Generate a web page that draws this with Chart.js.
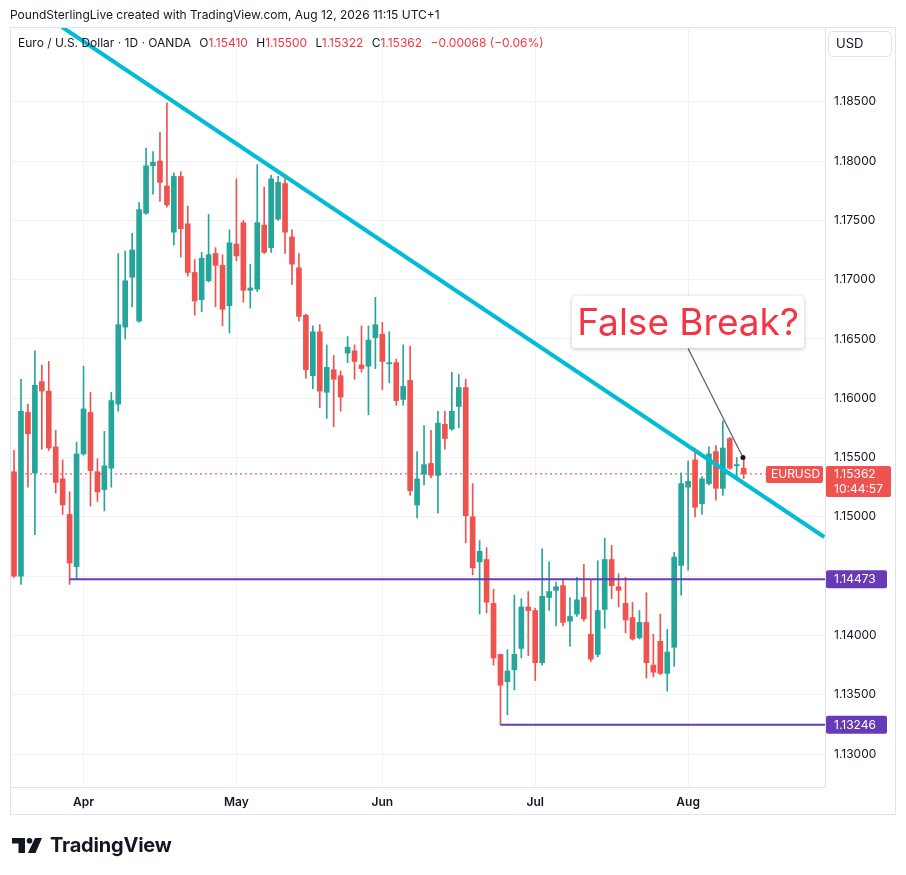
<!DOCTYPE html>
<html>
<head>
<meta charset="utf-8">
<title>EURUSD 1D</title>
<script src="https://cdn.jsdelivr.net/npm/chart.js@4.4.1/dist/chart.umd.min.js"></script>
<style>
    html, body { margin: 0; padding: 0; background: #fff; }
    body { width: 906px; height: 875px; position: relative; overflow: hidden; font-family: Inter, Roboto, "Noto Sans", sans-serif; color: #131722; }
    #chart { position: absolute; left: 0; top: 0; }
    .credit { position: absolute; left: 10px; top: 7px; font-size: 12px; white-space: nowrap; }
    .legend { position: absolute; left: 18px; top: 35px; font-size: 12px; white-space: nowrap; }
    .legend .v { color: #f23645; }
    .legend span.gap { display: inline-block; width: 5px; }
    .callout { position: absolute; left: 572px; top: 296px; width: 232px; height: 52px; background: #fff; border-radius: 4px;
        box-shadow: 0 1px 4px rgba(0, 0, 0, 0.25); color: #f23645; font-size: 37px; line-height: 52px; text-align: center; }
    .logo { position: absolute; left: 12px; top: 834px; height: 22px; display: flex; align-items: center; }
    .logo span { font-size: 20px; font-weight: 700; letter-spacing: -0.2px; margin-left: 8px; color: #131722; }
</style>
</head>
<body>
<canvas id="chart" width="906" height="875"></canvas>
<div class="credit">PoundSterlingLive created with TradingView.com, Aug 12, 2026 11:15 UTC+1</div>
<div class="legend">Euro / U.S. Dollar · 1D · OANDA<span class="gap"></span> O<span class="v">1.15410</span><span class="gap"></span> H<span class="v">1.15500</span><span class="gap"></span> L<span class="v">1.15322</span><span class="gap"></span> C<span class="v">1.15362</span><span class="gap"></span> <span class="v">−0.00068 (−0.06%)</span></div>
<div class="callout">False Break?</div>
<div class="logo">
    <svg width="30" height="15" viewBox="0 0 30 15"><path d="M0 0H13V15H6.5V5.5H0Z" fill="#131722"/><circle cx="17.5" cy="2.8" r="2.8" fill="#131722"/><path d="M23 0H30L23.5 15H16Z" fill="#131722"/></svg>
    <span>TradingView</span>
</div>
<script>
    'use strict';

    // daily candles, Mar 18 -> Aug 12 (one entry per trading day)
    const opens = [1.1538, 1.1450, 1.1588, 1.1537, 1.1614, 1.1606, 1.1559, 1.1532, 1.1502, 1.1458,
        1.1553, 1.1588, 1.1538, 1.1523, 1.1541, 1.1595, 1.1660, 1.1702, 1.1665, 1.1756,
        1.1796, 1.1800, 1.1779, 1.1740, 1.1787, 1.1747, 1.1706, 1.1683, 1.1699, 1.1722,
        1.1712, 1.1678, 1.1730, 1.1748, 1.1691, 1.1692, 1.1746, 1.1727, 1.1751, 1.1781,
        1.1736, 1.1710, 1.1670, 1.1619, 1.1656, 1.1605, 1.1624, 1.1619, 1.1638, 1.1640,
        1.1628, 1.1627, 1.1651, 1.1654, 1.1629, 1.1630, 1.1599, 1.1615, 1.1510, 1.1536,
        1.1545, 1.1535, 1.1578, 1.1574, 1.1593, 1.1609, 1.1500, 1.1462, 1.1464, 1.1427,
        1.1384, 1.1361, 1.1371, 1.1389, 1.1424, 1.1421, 1.1377, 1.1432, 1.1438, 1.1442,
        1.1412, 1.1418, 1.1432, 1.1401, 1.1384, 1.1422, 1.1464, 1.1441, 1.1427, 1.1415,
        1.1398, 1.1411, 1.1375, 1.1395, 1.1368, 1.1390, 1.1459, 1.1525, 1.1548, 1.1511,
        1.1528, 1.1555, 1.1524, 1.1566, 1.1543, 1.1541];
    const highs = [1.1556, 1.1616, 1.1595, 1.1640, 1.1628, 1.1631, 1.1573, 1.1548, 1.1521, 1.1563,
        1.1627, 1.1605, 1.1549, 1.1572, 1.1605, 1.1722, 1.1724, 1.1739, 1.1765, 1.1811,
        1.1808, 1.1824, 1.1849, 1.1790, 1.1791, 1.1762, 1.1717, 1.1723, 1.1755, 1.1727,
        1.1721, 1.1742, 1.1785, 1.1750, 1.1713, 1.1797, 1.1778, 1.1788, 1.1787, 1.1788,
        1.1742, 1.1722, 1.1671, 1.1661, 1.1662, 1.1645, 1.1636, 1.1623, 1.1652, 1.1645,
        1.1661, 1.1661, 1.1685, 1.1664, 1.1656, 1.1633, 1.1645, 1.1644, 1.1555, 1.1577,
        1.1573, 1.1589, 1.1589, 1.1622, 1.1620, 1.1616, 1.1528, 1.1480, 1.1474, 1.1439,
        1.1384, 1.1388, 1.1434, 1.1431, 1.1437, 1.1423, 1.1473, 1.1462, 1.1445, 1.1448,
        1.1432, 1.1449, 1.1460, 1.1447, 1.1463, 1.1482, 1.1476, 1.1452, 1.1449, 1.1428,
        1.1421, 1.1436, 1.1401, 1.1418, 1.1405, 1.1470, 1.1537, 1.1547, 1.1558, 1.1534,
        1.1559, 1.1560, 1.1581, 1.1567, 1.1550, 1.1550];
    const lows = [1.1449, 1.1443, 1.1525, 1.1485, 1.1557, 1.1556, 1.1520, 1.1502, 1.1443, 1.1447,
        1.1552, 1.1509, 1.1513, 1.1505, 1.1525, 1.1589, 1.1650, 1.1677, 1.1664, 1.1755,
        1.1772, 1.1766, 1.1761, 1.1729, 1.1719, 1.1703, 1.1670, 1.1673, 1.1698, 1.1677,
        1.1661, 1.1655, 1.1716, 1.1681, 1.1676, 1.1690, 1.1722, 1.1723, 1.1750, 1.1722,
        1.1696, 1.1665, 1.1617, 1.1608, 1.1592, 1.1583, 1.1576, 1.1589, 1.1630, 1.1616,
        1.1622, 1.1586, 1.1625, 1.1607, 1.1613, 1.1594, 1.1594, 1.1518, 1.1499, 1.1527,
        1.1533, 1.1503, 1.1557, 1.1573, 1.1575, 1.1478, 1.1451, 1.1418, 1.1419, 1.1375,
        1.13246, 1.1333, 1.1354, 1.1381, 1.1383, 1.1362, 1.1375, 1.1421, 1.1408, 1.1408,
        1.1391, 1.1416, 1.1412, 1.1378, 1.1382, 1.1406, 1.1431, 1.1424, 1.1402, 1.1396,
        1.1397, 1.1364, 1.1365, 1.1367, 1.1353, 1.1374, 1.1434, 1.1455, 1.1500, 1.1502,
        1.1527, 1.1514, 1.1518, 1.1540, 1.1533, 1.15322];
    const closes = [1.1450, 1.1589, 1.1570, 1.1611, 1.1606, 1.1558, 1.1529, 1.1510, 1.1461, 1.1553,
        1.1591, 1.1539, 1.1521, 1.1543, 1.1598, 1.1662, 1.1699, 1.1725, 1.1759, 1.1796,
        1.1799, 1.1782, 1.1763, 1.1787, 1.1743, 1.1706, 1.1682, 1.1718, 1.1721, 1.1712,
        1.1675, 1.1731, 1.1720, 1.1691, 1.1693, 1.1748, 1.1723, 1.1785, 1.1782, 1.1740,
        1.1713, 1.1669, 1.1624, 1.1656, 1.1606, 1.1626, 1.1616, 1.1601, 1.1643, 1.1631,
        1.1625, 1.1649, 1.1662, 1.1631, 1.1630, 1.1598, 1.1610, 1.1522, 1.1532, 1.1544,
        1.1535, 1.1579, 1.1566, 1.1589, 1.1609, 1.1501, 1.1457, 1.1471, 1.1428, 1.1381,
        1.1358, 1.1370, 1.1384, 1.1424, 1.1421, 1.1377, 1.1433, 1.1437, 1.1441, 1.1411,
        1.1416, 1.1430, 1.1414, 1.1380, 1.1421, 1.1464, 1.1442, 1.1438, 1.1413, 1.1397,
        1.1411, 1.1377, 1.1369, 1.1368, 1.1386, 1.1466, 1.1528, 1.1530, 1.1508, 1.1532,
        1.1553, 1.1524, 1.1558, 1.1541, 1.1544, 1.15362];

    const monthTicks = [10, 32, 53, 75, 97];
    const monthNames = ['Apr', 'May', 'Jun', 'Jul', 'Aug'];
    const priceTicks = [1.13, 1.135, 1.14, 1.145, 1.15, 1.155, 1.16, 1.165, 1.17, 1.175, 1.18, 1.185];

    // drawings
    const trendX = [6.9, 116.6];
    const trendY = [1.1913, 1.1483];
    const levelValues = [1.14473, 1.13246];
    const levelStarts = [8, 70];
    const pointerX = [97, 104.9];
    const pointerY = [1.1642, 1.1550];
    const lastPrice = 1.15362;
    const symbol = 'EURUSD';
    const countdown = '10:44:57';

    const X_MIN = -0.58;
    const X_MAX = 116.7;
    const UP = '#26a69a';
    const DOWN = '#ef5350';
    const LEVEL = '#673ab7';
    const FONT = 'Inter, Roboto, "Noto Sans", sans-serif';

    const candleColors = opens.map((o, i) => (closes[i] >= o ? UP : DOWN));

    function levelDataset(value, start) {
        return {
            type: 'line',
            data: [{ x: start, y: value }, { x: X_MAX, y: value }],
            borderColor: LEVEL,
            borderWidth: 2,
            pointRadius: 0,
            clip: 0,
            order: 2
        };
    }

    const frame = {
        id: 'frame',
        afterDraw(chart) {
            const ctx = chart.ctx;
            const area = chart.chartArea;
            const x = chart.scales.x;
            const y = chart.scales.y;

            ctx.save();
            ctx.strokeStyle = '#e0e3eb';
            ctx.lineWidth = 1;
            ctx.strokeRect(area.left + 0.5, area.top + 0.5, y.right - area.left - 1, x.bottom - area.top - 1);

            // currency box
            ctx.beginPath();
            ctx.roundRect(y.left + 3.5, area.top + 4.5, 63, 25, 4);
            ctx.fillStyle = '#fff';
            ctx.fill();
            ctx.stroke();
            ctx.fillStyle = '#131722';
            ctx.font = '13px ' + FONT;
            ctx.textBaseline = 'middle';
            ctx.textAlign = 'left';
            ctx.fillText('USD', y.left + 11, area.top + 17);

            ctx.font = '12px ' + FONT;
            // level tags on the price scale
            levelValues.forEach((v) => {
                const py = y.getPixelForValue(v);
                ctx.fillStyle = LEVEL;
                ctx.beginPath();
                ctx.roundRect(y.left + 1, py - 9, 61, 18, 2);
                ctx.fill();
                ctx.fillStyle = '#fff';
                ctx.fillText(v.toFixed(5), y.left + 9, py + 0.5);
            });

            // last price tags
            const py = y.getPixelForValue(lastPrice);
            ctx.fillStyle = DOWN;
            ctx.beginPath();
            ctx.roundRect(area.right - 59, py - 8, 57, 17, 2);
            ctx.fill();
            ctx.beginPath();
            ctx.roundRect(y.left + 1, py - 8, 65, 31, 2);
            ctx.fill();
            ctx.fillStyle = '#fff';
            ctx.fillText(symbol, area.right - 54, py + 0.5);
            ctx.fillText(lastPrice.toFixed(5), y.left + 9, py + 0.5);
            ctx.fillText(countdown, y.left + 9, py + 15.5);
            ctx.restore();
        }
    };

    function initChart() {
        const canvas = document.getElementById('chart');

        new Chart(canvas, {
            data: {
                datasets: [
                    {
                        type: 'line',
                        data: [{ x: X_MIN, y: lastPrice }, { x: X_MAX, y: lastPrice }],
                        borderColor: '#f23645',
                        borderWidth: 1,
                        borderDash: [2, 3],
                        pointRadius: 0,
                        order: 6
                    },
                    {
                        type: 'bar',
                        data: lows.map((l, i) => ({ x: i, y: [l, highs[i]] })),
                        backgroundColor: candleColors,
                        barThickness: 1,
                        grouped: false,
                        order: 5
                    },
                    {
                        type: 'bar',
                        data: opens.map((o, i) => ({ x: i, y: [o, closes[i]] })),
                        backgroundColor: candleColors,
                        barThickness: 5,
                        minBarLength: 1,
                        grouped: false,
                        order: 4
                    },
                    levelDataset(levelValues[0], levelStarts[0]),
                    levelDataset(levelValues[1], levelStarts[1]),
                    {
                        type: 'line',
                        data: trendX.map((x, i) => ({ x: x, y: trendY[i] })),
                        borderColor: '#00bcd4',
                        borderWidth: 4,
                        pointRadius: 0,
                        clip: 0,
                        order: 1
                    },
                    {
                        type: 'line',
                        data: pointerX.map((x, i) => ({ x: x, y: pointerY[i] })),
                        borderColor: '#555a64',
                        borderWidth: 1.2,
                        pointRadius: [0, 2.5],
                        pointBackgroundColor: '#131722',
                        pointBorderWidth: 0,
                        clip: false,
                        order: 0
                    }
                ]
            },
            options: {
                responsive: false,
                animation: false,
                devicePixelRatio: 1,
                layout: { padding: { left: 10, top: 27, right: 10, bottom: 60 } },
                plugins: { legend: { display: false }, tooltip: { enabled: false } },
                scales: {
                    x: {
                        type: 'linear',
                        offset: false,
                        min: X_MIN,
                        max: X_MAX,
                        afterFit: (scale) => { scale.height = 28; },
                        afterBuildTicks: (scale) => { scale.ticks = monthTicks.map((v) => ({ value: v })); },
                        grid: { color: '#f0f2f5', drawTicks: false, offset: false },
                        border: { display: true, color: '#e0e3eb' },
                        ticks: {
                            padding: 8,
                            color: '#131722',
                            font: { family: FONT, size: 12, weight: '600' },
                            maxRotation: 0,
                            callback: (value) => monthNames[monthTicks.indexOf(value)] || ''
                        }
                    },
                    y: {
                        position: 'right',
                        min: 1.12722,
                        max: 1.1913,
                        afterFit: (scale) => { scale.width = 71; },
                        afterBuildTicks: (scale) => { scale.ticks = priceTicks.map((v) => ({ value: v })); },
                        grid: { color: '#f0f2f5', drawTicks: false },
                        border: { display: true, color: '#e0e3eb' },
                        ticks: {
                            padding: 9,
                            color: '#131722',
                            font: { family: FONT, size: 12 },
                            callback: (value) => value.toFixed(5)
                        }
                    }
                }
            },
            plugins: [frame]
        });
    }

    initChart();
</script>
</body>
</html>
